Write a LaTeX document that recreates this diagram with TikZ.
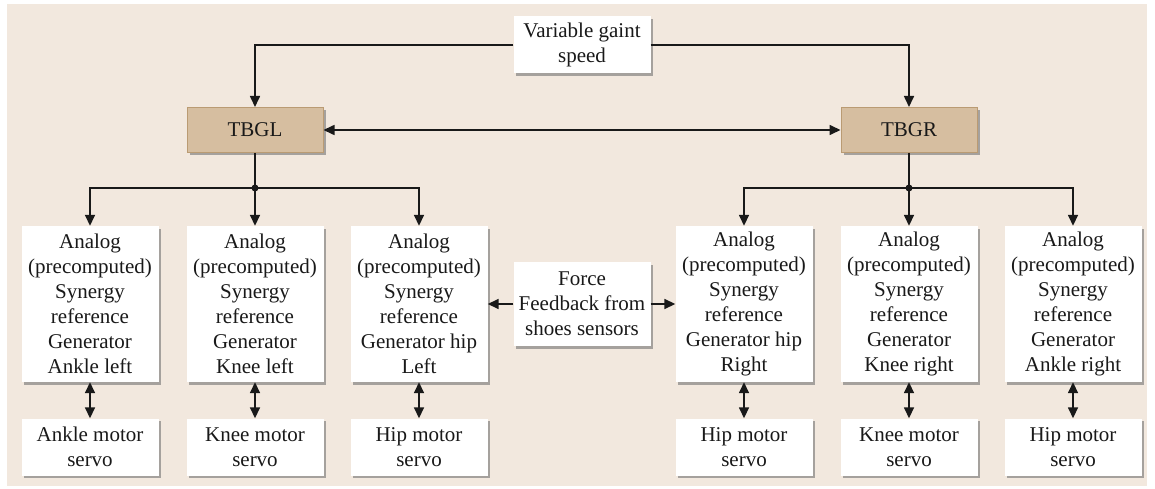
\documentclass[tikz,border=0pt]{standalone}
\usepackage{fontspec}
\setmainfont{Liberation Serif}
\usetikzlibrary{shadows,arrows.meta}
\definecolor{bgc}{RGB}{242,232,222}
\definecolor{tbgfill}{RGB}{214,190,160}
\definecolor{tbgdraw}{RGB}{186,155,115}
\definecolor{linec}{RGB}{25,25,25}
\tikzset{
  boxbase/.style={draw=none, fill=white, align=center, inner sep=0pt, text=linec,
    font=\fontsize{21}{25}\selectfont,
    drop shadow={shadow xshift=2.5pt, shadow yshift=-2.5pt, fill=black!55, opacity=0.6}},
  analogbox/.style={boxbase, minimum width=137pt, minimum height=156pt},
  motorbox/.style={boxbase, minimum width=137pt, minimum height=57pt},
  tbgbox/.style={boxbase, fill=tbgfill, draw=tbgdraw, line width=1pt, minimum width=136pt, minimum height=45pt},
  tipx/.tip={Triangle[length=11pt,width=10pt]},
  conn/.style={draw=linec, line width=1.6pt, -tipx},
  dconn/.style={draw=linec, line width=1.6pt, tipx-tipx},
  plain/.style={draw=linec, line width=1.6pt},
  jdot/.style={circle, fill=linec, inner sep=0pt, minimum size=7pt}
}
\begin{document}
\begin{tikzpicture}[x=1pt,y=-1pt]
\useasboundingbox (0,0) rectangle (1155,489);
\fill[bgc] (7,4) rectangle (1147,486);

\node[boxbase, minimum width=137pt, minimum height=57pt] (speed) at (582,45) {Variable gaint\\speed};
\node[tbgbox] (tbgl) at (255,130) {TBGL};
\node[tbgbox] (tbgr) at (909,130) {TBGR};

\node[analogbox] (a1) at (90,304) {Analog\\(precomputed)\\Synergy\\reference\\Generator\\Ankle left};
\node[analogbox] (a2) at (255,304) {Analog\\(precomputed)\\Synergy\\reference\\Generator\\Knee left};
\node[analogbox] (a3) at (419,304) {Analog\\(precomputed)\\Synergy\\reference\\Generator hip\\Left};
\node[analogbox] (a4) at (744,304) {Analog\\(precomputed)\\Synergy\\reference\\Generator hip\\Right};
\node[analogbox] (a5) at (909,304) {Analog\\(precomputed)\\Synergy\\reference\\Generator\\Knee right};
\node[analogbox] (a6) at (1073,304) {Analog\\(precomputed)\\Synergy\\reference\\Generator\\Ankle right};

\node[boxbase, minimum width=137pt, minimum height=84pt] (force) at (582,304) {Force\\Feedback from\\shoes sensors};

\node[motorbox] (m1) at (90,447) {Ankle motor\\servo};
\node[motorbox] (m2) at (255,447) {Knee motor\\servo};
\node[motorbox] (m3) at (419,447) {Hip motor\\servo};
\node[motorbox] (m4) at (744,447) {Hip motor\\servo};
\node[motorbox] (m5) at (909,447) {Knee motor\\servo};
\node[motorbox] (m6) at (1073,447) {Hip motor\\servo};

% speed to TBGs
\draw[conn] (speed.west) -| (tbgl.north);
\draw[conn] (speed.east) -| (tbgr.north);
\draw[dconn] (tbgl.east) -- (tbgr.west);

% junctions
\node[jdot] (jl) at (255,188) {};
\node[jdot] (jr) at (909,188) {};
\draw[plain] (tbgl.south) -- (jl.center);
\draw[plain] (tbgr.south) -- (jr.center);
\draw[conn] (jl.center) -| (a1.north);
\draw[conn] (jl.center) -- (a2.north);
\draw[conn] (jl.center) -| (a3.north);
\draw[conn] (jr.center) -| (a4.north);
\draw[conn] (jr.center) -- (a5.north);
\draw[conn] (jr.center) -| (a6.north);

% force feedback
\draw[conn] (force.west) -- (a3.east);
\draw[conn] (force.east) -- (a4.west);

% motors
\foreach \i in {1,...,6}{
  \draw[dconn] (a\i.south) -- (m\i.north);
}
\end{tikzpicture}
\end{document}
